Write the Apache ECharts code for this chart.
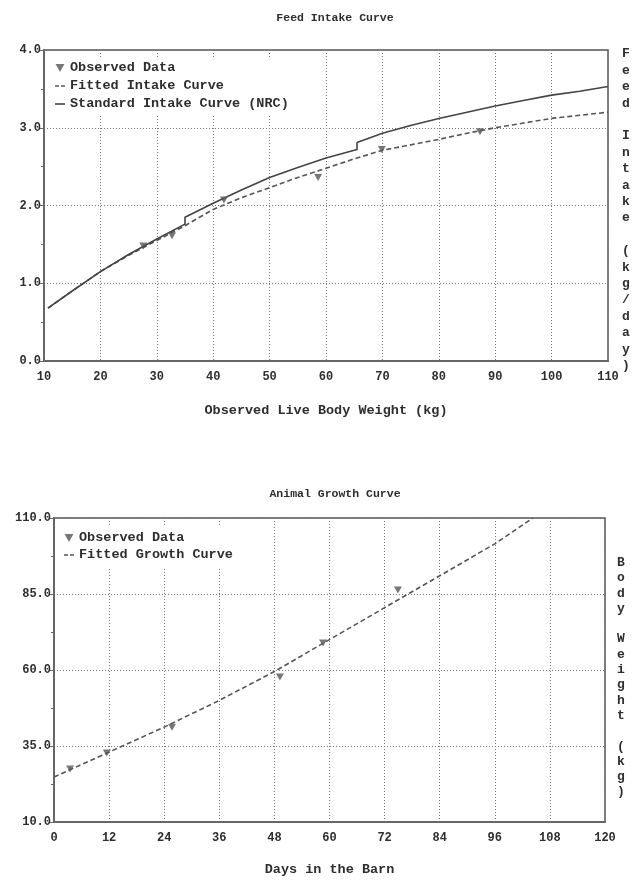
<!DOCTYPE html>
<html>
<head>
<meta charset="utf-8">
<script src="https://cdn.jsdelivr.net/npm/echarts@6/dist/echarts.min.js"></script>
<style>
  html, body { margin: 0; padding: 0; background: #fff; }
  #chart { width: 638px; height: 881px; }
</style>
</head>
<body>
<div id="chart"></div>
<script>
// Feed intake chart - observed points
const obsWeight = [27.6, 32.7, 41.9, 58.6, 69.9, 87.3]
const obsIntake = [1.48, 1.61, 2.07, 2.36, 2.72, 2.95]

// fitted intake curve
const fitWeight = [10.7, 15, 20, 25, 30, 35, 40, 45, 50, 55, 60, 65, 70, 75, 80, 85, 90, 95, 100, 105, 110]
const fitIntake = [0.68, 0.90, 1.15, 1.36, 1.55, 1.74, 1.95, 2.10, 2.23, 2.36, 2.48, 2.60, 2.71, 2.78, 2.85, 2.93, 3.00, 3.06, 3.12, 3.16, 3.20]

// standard (NRC) curve, with its two steps
const nrcWeight = [10.7, 15, 20, 25, 30, 35, 35, 40, 45, 50, 55, 60, 65.5, 65.5, 70, 75, 80, 85, 90, 95, 100, 105, 110]
const nrcIntake = [0.68, 0.90, 1.15, 1.37, 1.57, 1.76, 1.85, 2.03, 2.20, 2.36, 2.49, 2.61, 2.72, 2.81, 2.93, 3.03, 3.12, 3.20, 3.28, 3.35, 3.42, 3.47, 3.53]

// Growth chart
const obsDay = [3.5, 11.5, 25.7, 49.2, 58.6, 74.9]
const obsBodyWt = [27.4, 32.7, 41.2, 57.7, 68.9, 86.3]
const fitDay = [0, 12, 24, 36, 48, 60, 72, 84, 96, 104.3]
const fitBodyWt = [24.8, 33.0, 41.2, 50.0, 59.5, 70.0, 80.5, 91.0, 101.5, 110.0]

const FONT = '"Liberation Mono", "DejaVu Sans Mono", monospace'
const TXT = '#2e2e2e'
const pairs = (xs, ys) => xs.map((x, i) => [x, ys[i]])
const triDown = 'path://M0,0L10,0L5,9Z'
// legend icons: two short dashes / one solid dash
const dashIcon = 'path://M0,0h4v1.6h-4zM6,0h4v1.6h-4z'
const solidIcon = 'path://M0,0h10v1.6h-10z'

const gridLine = { show: true, lineStyle: { color: '#777', type: [1, 2], width: 1 } }
const axisLabel = { color: TXT, fontFamily: FONT, fontWeight: 'bold', fontSize: 12 }

const xAxisBase = {
  type: 'value',
  axisLine: { show: true, lineStyle: { color: '#666', width: 2 } },
  axisTick: { show: false },
  splitLine: gridLine,
  axisLabel: { ...axisLabel, margin: 10 },
  nameLocation: 'middle',
  nameTextStyle: { color: TXT, fontFamily: FONT, fontWeight: 'bold', fontSize: 13.5 }
}
const yAxisBase = {
  type: 'value',
  axisLine: { show: true, lineStyle: { color: '#666', width: 2 } },
  axisTick: { show: true, length: 5, lineStyle: { color: '#666' } },
  minorTick: { show: true, splitNumber: 2, length: 3, lineStyle: { color: '#666' } },
  splitLine: gridLine,
  axisLabel: { ...axisLabel, margin: 3, formatter: v => v.toFixed(1) }
}

const legendText = { color: TXT, fontFamily: FONT, fontWeight: 'bold', fontSize: 13.5, lineHeight: 13 }
const vertText = s => s.split('').join('\n')

const chart = echarts.init(document.getElementById('chart'))

chart.setOption({
  animation: false,
  title: [
    { text: 'Feed Intake Curve', left: 330, top: 7, textAlign: 'center',
      textStyle: { color: TXT, fontFamily: FONT, fontSize: 11.5, fontWeight: 'bold' } },
    { text: 'Animal Growth Curve', left: 330, top: 483, textAlign: 'center',
      textStyle: { color: TXT, fontFamily: FONT, fontSize: 11.5, fontWeight: 'bold' } }
  ],
  grid: [
    { left: 44, top: 50, width: 564, height: 311, show: true, borderColor: '#555', borderWidth: 1.5 },
    { left: 54, top: 518, width: 551, height: 304, show: true, borderColor: '#555', borderWidth: 1.5 }
  ],
  legend: [
    {
      left: 50, top: 57, orient: 'vertical', itemGap: 4, itemWidth: 10, itemHeight: 8,
      backgroundColor: '#fff', padding: [4, 8, 5, 5], textStyle: legendText,
      data: [
        { name: 'Observed Data', icon: triDown },
        { name: 'Fitted Intake Curve', icon: dashIcon, itemStyle: { color: '#555' } },
        { name: 'Standard Intake Curve (NRC)', icon: solidIcon, itemStyle: { color: '#444' } }
      ]
    },
    {
      left: 59, top: 527, orient: 'vertical', itemGap: 3, itemWidth: 10, itemHeight: 8,
      backgroundColor: '#fff', padding: [4, 8, 5, 5], textStyle: legendText,
      data: [
        { name: 'Observed Data', icon: triDown },
        { name: 'Fitted Growth Curve', icon: dashIcon, itemStyle: { color: '#555' } }
      ]
    }
  ],
  xAxis: [
    { ...xAxisBase, gridIndex: 0, min: 10, max: 110, interval: 10,
      name: 'Observed Live Body Weight (kg)', nameGap: 43 },
    { ...xAxisBase, gridIndex: 1, min: 0, max: 120, interval: 12,
      name: 'Days in the Barn', nameGap: 41 }
  ],
  yAxis: [
    { ...yAxisBase, gridIndex: 0, min: 0, max: 4, interval: 1 },
    { ...yAxisBase, gridIndex: 1, min: 10, max: 110, interval: 25 }
  ],
  series: [
    {
      name: 'Observed Data', type: 'scatter', xAxisIndex: 0, yAxisIndex: 0,
      symbol: triDown, symbolSize: [8, 7], itemStyle: { color: '#555' },
      data: pairs(obsWeight, obsIntake), z: 5
    },
    {
      name: 'Fitted Intake Curve', type: 'line', xAxisIndex: 0, yAxisIndex: 0,
      showSymbol: false, symbol: 'none',
      lineStyle: { color: '#555', width: 1.6, type: [5, 3] }, itemStyle: { color: '#555' },
      data: pairs(fitWeight, fitIntake)
    },
    {
      name: 'Standard Intake Curve (NRC)', type: 'line', xAxisIndex: 0, yAxisIndex: 0,
      showSymbol: false, symbol: 'none',
      lineStyle: { color: '#444', width: 1.6 }, itemStyle: { color: '#444' },
      data: pairs(nrcWeight, nrcIntake)
    },
    {
      name: 'Observed Data', type: 'scatter', xAxisIndex: 1, yAxisIndex: 1,
      symbol: triDown, symbolSize: [8, 7], itemStyle: { color: '#555' },
      data: pairs(obsDay, obsBodyWt), z: 5
    },
    {
      name: 'Fitted Growth Curve', type: 'line', xAxisIndex: 1, yAxisIndex: 1,
      showSymbol: false, symbol: 'none',
      lineStyle: { color: '#555', width: 1.6, type: [5, 3] }, itemStyle: { color: '#555' },
      data: pairs(fitDay, fitBodyWt)
    }
  ],
  graphic: [
    { type: 'text', left: 622, top: 46,
      style: { text: vertText('Feed Intake (kg/day)'), fill: TXT, font: 'bold 13px ' + FONT,
               lineHeight: 16.4, align: 'center' } },
    { type: 'text', left: 617, top: 555,
      style: { text: vertText('Body Weight (kg)'), fill: TXT, font: 'bold 13px ' + FONT,
               lineHeight: 15.3, align: 'center' } }
  ]
})
</script>
</body>
</html>
